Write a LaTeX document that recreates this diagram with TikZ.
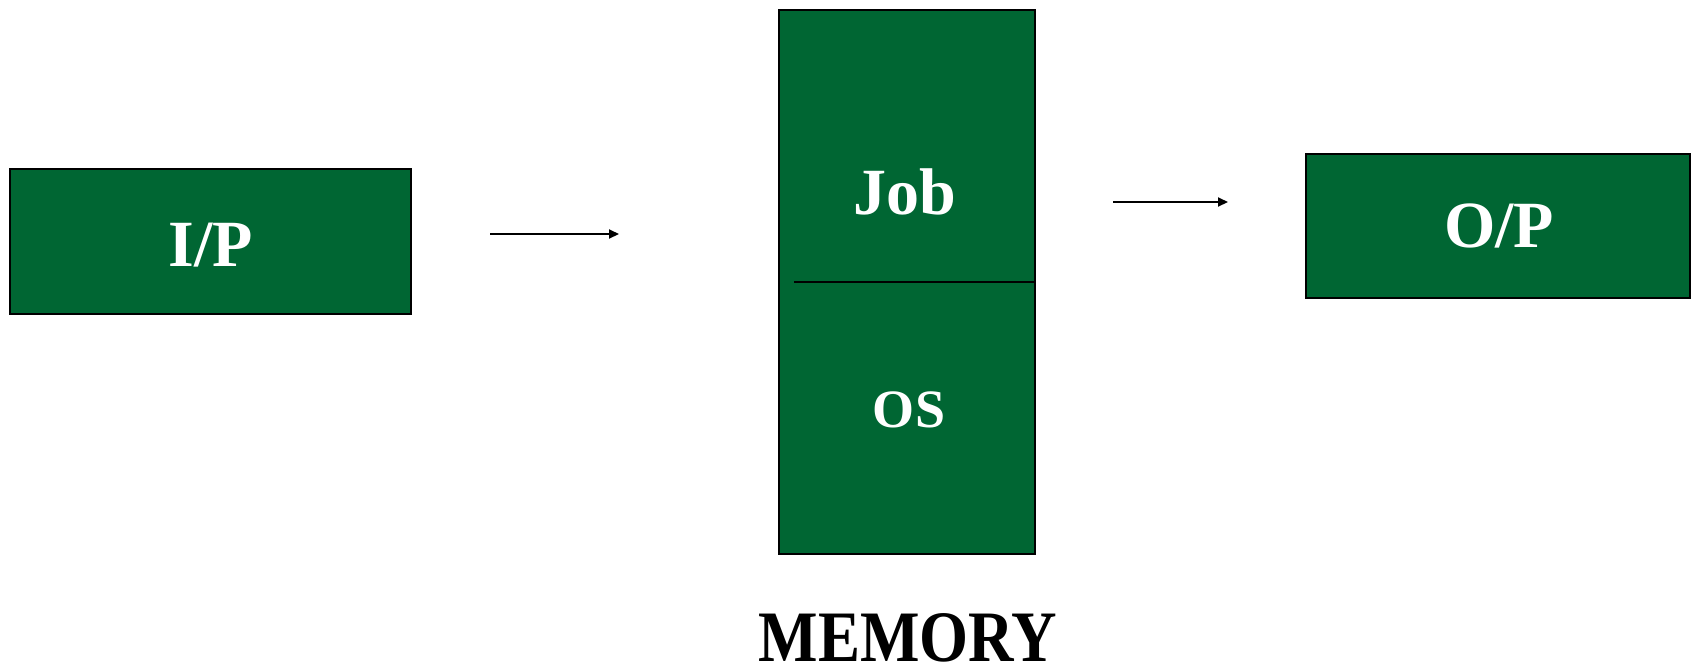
\documentclass[tikz,border=0pt]{standalone}
\usepackage{fontspec}
\setmainfont{Liberation Serif}
\usetikzlibrary{arrows.meta}
\definecolor{boxgreen}{RGB}{0,102,51}
\tikzset{
  unit/.style={draw=black, line width=2pt, fill=boxgreen},
  label/.style={text=white, font=\fontsize{66}{66}\selectfont\bfseries},
  flow/.style={line width=2pt, -{Triangle[length=10pt,width=9pt]}}
}
\begin{document}
\begin{tikzpicture}[x=1pt,y=-1pt]
  \useasboundingbox (0,0) rectangle (1691,662);
  % input device
  \draw[unit] (10,169) rectangle (411,314);
  \node[label] (ip) at (211,245) {I/P};
  % main memory holding the job above the operating system
  \draw[unit] (779,10) rectangle (1035,554);
  \coordinate (divl) at (794,282);
  \coordinate (divr) at (1035,282);
  \draw[line width=2pt] (divl) -- (divr);
  \node[label] (job) at (905,192) {Job};
  \node[label, font=\fontsize{54}{54}\selectfont\bfseries] (os) at (909,410) {OS};
  \node[anchor=base, inner sep=0pt, font=\fontsize{63}{63}\selectfont\bfseries] (mem) at (908,661) {\scalebox{1}[1.15]{MEMORY}};
  % output device
  \draw[unit] (1306,154) rectangle (1690,298);
  \node[label] (op) at (1499,226) {O/P};
  % data flow
  \coordinate (a1s) at (490,234);
  \coordinate (a1e) at (619,234);
  \coordinate (a2s) at (1113,202);
  \coordinate (a2e) at (1228,202);
  \draw[flow] (a1s) -- (a1e);
  \draw[flow] (a2s) -- (a2e);
\end{tikzpicture}
\end{document}
